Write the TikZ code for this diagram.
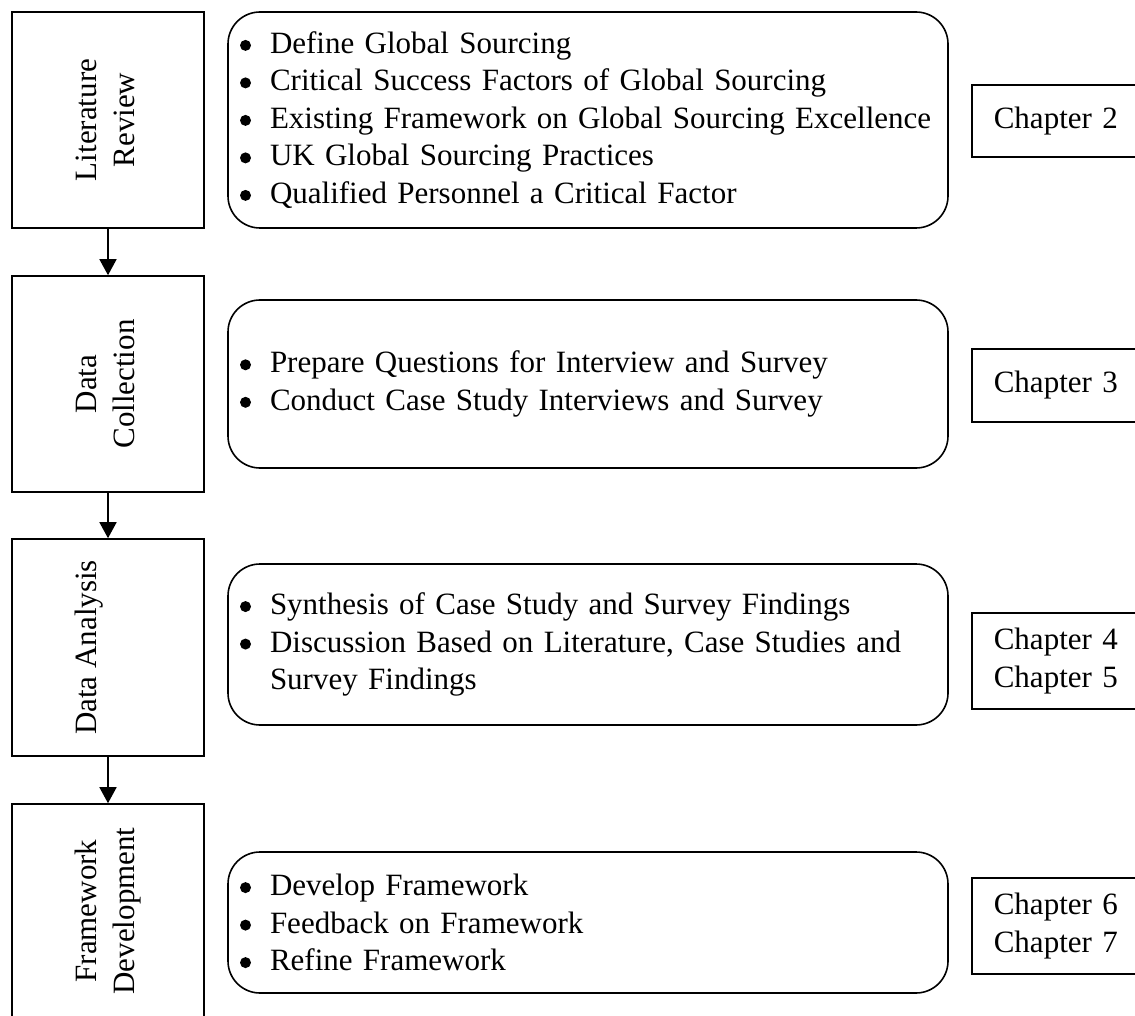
\documentclass[tikz,border=0pt]{standalone}
\usepackage{fontspec}
\usepackage{graphicx}
\setmainfont{Liberation Serif}
\usetikzlibrary{arrows.meta}

% round bullet with a fixed hanging indent
\newcommand{\bitem}[1]{\makebox[30pt][l]{\tikz[x=1pt,y=1pt,baseline=0pt]\fill[draw=none] (10pt,8pt) circle[radius=5.5pt];}#1}
% vertical stage title, read from bottom to top
\newcommand{\vtitle}[1]{\rotatebox{90}{\begin{tabular}{@{}c@{}}#1\end{tabular}}}

\begin{document}
\begin{tikzpicture}[x=1pt,y=-1pt,
  every node/.style={font=\fontsize{31}{37.5}\selectfont, inner sep=0pt},
  stage/.style={draw, line width=1.6pt, minimum width=192pt},
  tasks/.style={draw, line width=1.6pt, rounded corners=32pt,
                text width=696pt, inner xsep=12pt, align=left,
                execute at begin node={\hyphenpenalty=10000\relax}},
  chapter/.style={draw, line width=1.6pt, text width=130pt, inner xsep=22pt,
                  align=left, anchor=west},
  flow/.style={line width=1.6pt, -{Triangle[length=16pt,width=17pt]}}
]
\useasboundingbox (0,0) rectangle (1135,1016);

% stages on the left
\node[stage, minimum height=216pt] (s1) at (108,120)   {\vtitle{Literature\\Review}};
\node[stage, minimum height=216pt] (s2) at (108,384)   {\vtitle{Data\\Collection}};
\node[stage, minimum height=217pt] (s3) at (108,647.5) {\vtitle{Data Analysis\\\strut}};
\node[stage, minimum height=214pt] (s4) at (108,911)   {\vtitle{Framework\\Development}};

\draw[flow] (s1.south) -- (s2.north);
\draw[flow] (s2.south) -- (s3.north);
\draw[flow] (s3.south) -- (s4.north);

% task lists
\node[tasks, minimum height=216pt] (t1) at (588,120) {%
  \bitem{Define Global Sourcing}\\
  \bitem{Critical Success Factors of Global Sourcing}\\
  \bitem{Existing Framework on Global Sourcing Excellence}\\
  \bitem{UK Global Sourcing Practices}\\
  \bitem{Qualified Personnel a Critical Factor}};
\node[tasks, minimum height=168pt] (t2) at (588,384) {%
  \bitem{Prepare Questions for Interview and Survey}\\
  \bitem{Conduct Case Study Interviews and Survey}};
\node[tasks, minimum height=161pt] (t3) at (588,644.5) {%
  \bitem{Synthesis of Case Study and Survey Findings}\\
  \bitem{Discussion Based on Literature, Case Studies and}\\
  \hspace*{30pt}Survey Findings};
\node[tasks, minimum height=141pt] (t4) at (588,922.5) {%
  \bitem{Develop Framework}\\
  \bitem{Feedback on Framework}\\
  \bitem{Refine Framework}};

% chapter references
\node[chapter, minimum height=72pt] (c1) at (971,121)   {Chapter 2};
\node[chapter, minimum height=73pt] (c2) at (971,385.5) {Chapter 3};
\node[chapter, minimum height=96pt] (c3) at (971,661)   {Chapter 4\\Chapter 5};
\node[chapter, minimum height=96pt] (c4) at (971,926)   {Chapter 6\\Chapter 7};
\end{tikzpicture}
\end{document}
